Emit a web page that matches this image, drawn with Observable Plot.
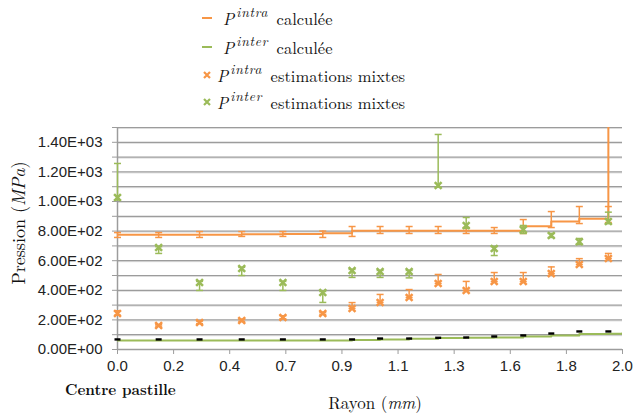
<!DOCTYPE html>
<html>
<head>
<meta charset="utf-8">
<script src="https://cdn.jsdelivr.net/npm/d3@7"></script>
<script src="https://cdn.jsdelivr.net/npm/@observablehq/plot@0.6"></script>
<style>
  body { margin: 0; background: #fff; }
  #wrap { position: relative; width: 634px; height: 414px; overflow: hidden; color: #111; }
  #chart { position: absolute; left: 0; top: 0; }
  .serif { font-family: "Latin Modern Roman", "Liberation Serif", serif; }
  .row { position: absolute; left: 200px; height: 24px; display: flex; align-items: center; white-space: nowrap; font-size: 16.5px; }
  .dash { display: inline-block; width: 10px; height: 2px; margin-left: 2px; margin-right: 11px; }
  .sup { font-size: 13.5px; font-style: italic; letter-spacing: 0.8px; position: relative; top: -7px; margin-left: 2px; }
  .mk { margin-left: 2px; margin-right: 5px; }
  .ytitle { position: absolute; left: 17px; top: 223px; transform: translate(-50%, -50%) rotate(-90deg); font-size: 18px; white-space: nowrap; }
  .xtitle { position: absolute; left: 375px; top: 402px; transform: translate(-50%, -50%); font-size: 17px; white-space: nowrap; }
  .centre { position: absolute; left: 65px; top: 388px; transform: translateY(-50%); font-size: 15px; font-weight: bold; white-space: nowrap; }
</style>
</head>
<body>
<div id="wrap">
  <div id="chart"></div>
  <div id="legend"></div>
  <div class="ytitle serif">Pression (<i>MPa</i>)</div>
  <div class="xtitle serif">Rayon (<i>mm</i>)</div>
  <div class="centre serif">Centre pastille</div>
</div>
<script>
// ---- Data ----
const radius = [0, 0.163, 0.325, 0.492, 0.655, 0.813, 0.929, 1.040, 1.155, 1.270, 1.381, 1.492, 1.607, 1.718, 1.829, 1.944];

// P intra calculée (step line) and its error bars
const intraCalc     = [775, 775, 776, 778, 780, 785, 803, 803, 803, 803, 803, 803, 833, 865, 883, 1600];
const intraCalcLow  = [757, 757, 757, 764, 764, 757, 764, 784, 784, 784, 784, 784, 784, 824, 851, 858];
const intraCalcHigh = [790, 790, 797, 797, 797, 800, 831, 831, 831, 831, 824, 824, 878, 932, 966, 966];

// P inter calculée (step line, extends to 2.0 mm)
const interCalcRadius = [0, 0.163, 0.325, 0.492, 0.655, 0.813, 0.929, 1.040, 1.155, 1.270, 1.381, 1.492, 1.607, 1.718, 1.829, 1.944, 2.0];
const interCalc       = [61, 61, 61, 61, 61, 61, 65, 68, 72, 77, 79, 81, 88, 95, 104, 106, 110];

// small black reference dashes near the bottom
const blackRef = [68, 68, 68, 68, 68, 68, 68, 74, 74, 79, 81, 88, 95, 108, 122, 122];

// P intra estimations mixtes
const intraEst     = [243, 162, 182, 196, 216, 243, 277, 318, 351, 446, 399, 459, 459, 513, 574, 615];
const intraEstLow  = [232, 158, 175, 190, 208, 238, 277, 318, 351, 446, 399, 459, 459, 513, 574, 615];
const intraEstHigh = [262, 168, 192, 204, 228, 252, 317, 372, 405, 507, 460, 520, 520, 558, 614, 649];

// P inter estimations mixtes
const interEst     = [1027, 689, 453, 547, 453, 385, 534, 527, 527, 1108, 838, 682, 810, 770, 728, 865];
const interEstLow  = [1010, 649, 399, 500, 399, 318, 487, 487, 484, 1097, 818, 635, 784, 757, 710, 850];
const interEstHigh = [1257, 695, 460, 555, 460, 392, 541, 534, 534, 1453, 892, 696, 838, 784, 750, 928];

// Axes ticks
const xTicks = [0, 0.2222, 0.4444, 0.6667, 0.8889, 1.1111, 1.3333, 1.5556, 1.7778, 2.0];
const xTickLabels = ["0.0", "0.2", "0.4", "0.7", "0.9", "1.1", "1.3", "1.6", "1.8", "2.0"];
const yGridTicks = [100, 200, 300, 400, 500, 600, 700, 800, 900, 1000, 1100, 1200, 1300, 1400, 1500];
const yAxisTicks = [0, 100, 200, 300, 400, 500, 600, 700, 800, 900, 1000, 1100, 1200, 1300, 1400, 1500];
const yLabelValues = [0, 200, 400, 600, 800, 1000, 1200, 1400];
const yTickLabels = ["0.00E+00", "2.00E+02", "4.00E+02", "6.00E+02", "8.00E+02", "1.00E+03", "1.20E+03", "1.40E+03"];

const ORANGE = "#F79646";
const GREEN = "#9BBB59";

// ---- Tables ----
const intraCalcT = radius.map((r, i) => ({r, v: intraCalc[i], lo: intraCalcLow[i], hi: intraCalcHigh[i]}));
const interCalcT = interCalcRadius.map((r, i) => ({r, v: interCalc[i]}));
const blackT = radius.map((r, i) => ({r, v: blackRef[i]}));
const intraEstT = radius.map((r, i) => ({r, v: intraEst[i], lo: intraEstLow[i], hi: intraEstHigh[i]}));
const interEstT = radius.map((r, i) => ({r, v: interEst[i], lo: interEstLow[i], hi: interEstHigh[i]}));

const capSymbol = {draw(ctx) { ctx.moveTo(-3.5, 0); ctx.lineTo(3.5, 0); }};
const dashSymbol = {draw(ctx) { ctx.rect(-3, -1.2, 6, 2.4); }};

function errorBars(data, color) {
  return [
    Plot.ruleX(data, {x: "r", y1: "lo", y2: "hi", stroke: color, strokeWidth: 1.5}),
    Plot.dot(data, {x: "r", y: "lo", symbol: capSymbol, stroke: color, strokeWidth: 1.5, fill: "none"}),
    Plot.dot(data, {x: "r", y: "hi", symbol: capSymbol, stroke: color, strokeWidth: 1.5, fill: "none"})
  ];
}

const chart = Plot.plot({
  width: 634,
  height: 414,
  marginLeft: 117,
  marginRight: 12,
  marginTop: 127,
  marginBottom: 65,
  x: {domain: [0, 2], label: null},
  y: {domain: [0, 1500], label: null},
  style: {fontFamily: "'Liberation Sans', Arial, sans-serif", fontSize: "15px", color: "#222", background: "transparent"},
  marks: [
    Plot.gridY(yGridTicks, {stroke: "#dcdcdc", strokeOpacity: 1, strokeWidth: 1, dy: 1}),
    Plot.gridY(yGridTicks, {stroke: "#9c9c9c", strokeOpacity: 1, strokeWidth: 1.2}),
    Plot.ruleX([0], {stroke: "#9c9c9c", strokeWidth: 1.5}),
    Plot.ruleY([0], {stroke: "#9c9c9c", strokeWidth: 1.5}),
    Plot.axisY({ticks: yAxisTicks, tickSize: 5, tickPadding: 10, stroke: "#9c9c9c", fill: "#222",
      tickFormat: d => { const k = yLabelValues.indexOf(d); return k < 0 ? "" : yTickLabels[k]; }}),
    Plot.axisX({ticks: xTicks, tickSize: 5, tickPadding: 6, stroke: "#9c9c9c", fill: "#222",
      tickFormat: d => xTickLabels[xTicks.indexOf(d)]}),
    Plot.line(interCalcT, {x: "r", y: "v", curve: "step-after", stroke: GREEN, strokeWidth: 2, clip: true}),
    Plot.line(intraCalcT, {x: "r", y: "v", curve: "step-after", stroke: ORANGE, strokeWidth: 2, clip: true}),
    ...errorBars(intraCalcT, ORANGE),
    Plot.dot(blackT, {x: "r", y: "v", symbol: dashSymbol, fill: "#000", stroke: "none"}),
    ...errorBars(intraEstT, ORANGE),
    ...errorBars(interEstT, GREEN),
    Plot.dot(intraEstT, {x: "r", y: "v", symbol: "times", r: 3.2, stroke: ORANGE, strokeWidth: 2.5}),
    Plot.dot(interEstT, {x: "r", y: "v", symbol: "times", r: 3.2, stroke: GREEN, strokeWidth: 2.5})
  ]
});
document.getElementById("chart").appendChild(chart);

// ---- Legend ----
const legendItems = [
  {kind: "line", color: ORANGE, sup: "intra", text: "calculée", cy: 18},
  {kind: "line", color: GREEN, sup: "inter", text: "calculée", cy: 47},
  {kind: "mark", color: ORANGE, sup: "intra", text: "estimations mixtes", cy: 75},
  {kind: "mark", color: GREEN, sup: "inter", text: "estimations mixtes", cy: 102}
];
const legend = document.getElementById("legend");
legendItems.forEach(it => {
  const row = document.createElement("div");
  row.className = "row serif";
  row.style.top = (it.cy - 12) + "px";
  let sym;
  if (it.kind === "line") {
    sym = `<span class="dash" style="background:${it.color}"></span>`;
  } else {
    sym = `<svg class="mk" width="10" height="10" viewBox="-5 -5 10 10"><path d="M-3,-3L3,3M3,-3L-3,3" stroke="${it.color}" stroke-width="2.2"/></svg>`;
  }
  row.innerHTML = `${sym}<i>P</i><span class="sup">${it.sup}</span>&nbsp;${it.text}`;
  legend.appendChild(row);
});
</script>
</body>
</html>
